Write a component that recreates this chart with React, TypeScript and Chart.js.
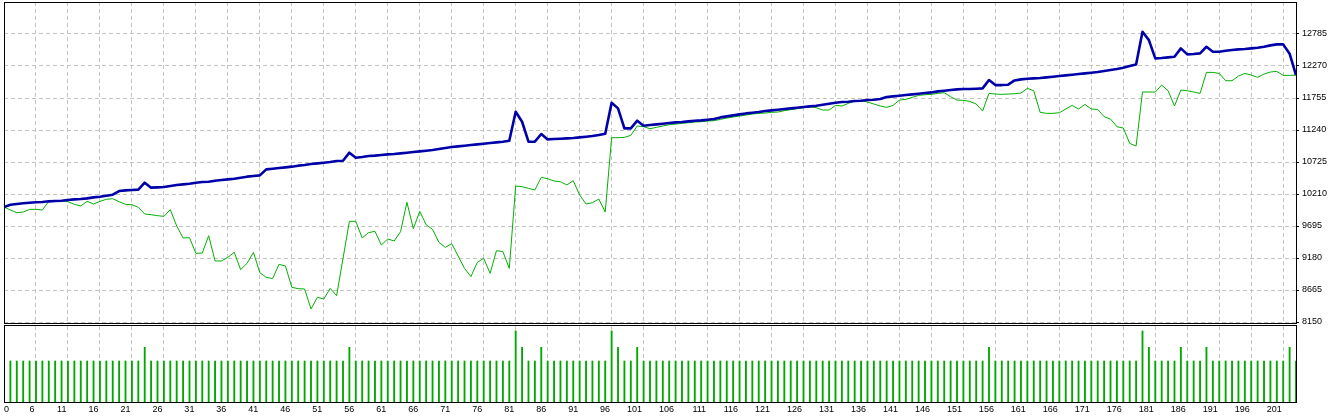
import React, { useEffect, useRef } from "react";
import { Chart, registerables } from "chart.js";

Chart.register(...registerables);

// Balance per trade number (0..202)
const balance = [
  10000, 10038, 10049, 10060, 10070, 10076, 10081, 10092, 10097, 10102,
  10113, 10124, 10129, 10140, 10156, 10167, 10183, 10199, 10258, 10269,
  10274, 10280, 10392, 10312, 10317, 10322, 10338, 10355, 10365, 10376,
  10392, 10403, 10408, 10424, 10435, 10446, 10456, 10472, 10489, 10499,
  10510, 10607, 10617, 10628, 10639, 10650, 10666, 10676, 10692, 10703,
  10714, 10725, 10741, 10746, 10875, 10794, 10805, 10821, 10827, 10837,
  10848, 10853, 10864, 10875, 10886, 10896, 10907, 10918, 10934, 10950,
  10966, 10977, 10987, 10998, 11009, 11020, 11030, 11041, 11052, 11068,
  11534, 11373, 11052, 11052, 11175, 11089, 11095, 11100, 11105, 11111,
  11121, 11132, 11143, 11159, 11180, 11679, 11588, 11266, 11266, 11390,
  11309, 11320, 11331, 11341, 11352, 11363, 11368, 11379, 11390, 11395,
  11406, 11416, 11443, 11459, 11475, 11491, 11507, 11518, 11529, 11545,
  11556, 11567, 11577, 11588, 11599, 11610, 11620, 11631, 11647, 11663,
  11679, 11690, 11695, 11706, 11711, 11722, 11727, 11738, 11770, 11781,
  11792, 11803, 11813, 11824, 11835, 11845, 11862, 11872, 11883, 11894,
  11899, 11899, 11904, 11910, 12044, 11963, 11963, 11969, 12038, 12055,
  12065, 12071, 12076, 12087, 12098, 12108, 12119, 12130, 12140, 12151,
  12162, 12173, 12189, 12205, 12221, 12242, 12269, 12296, 12822, 12687,
  12392, 12398, 12409, 12419, 12553, 12457, 12462, 12473, 12580, 12500,
  12500, 12516, 12527, 12537, 12543, 12553, 12564, 12580, 12602, 12618,
  12618, 12468, 12124,
];

// Equity per trade number (0..202)
const equity = [
  10000, 9952, 9910, 9920, 9963, 9963, 9952, 10092, 10097, 10102,
  10086, 10043, 10017, 10092, 10049, 10092, 10124, 10135, 10086, 10043,
  10038, 9995, 9888, 9877, 9861, 9850, 9958, 9695, 9502, 9507,
  9255, 9260, 9539, 9132, 9132, 9191, 9271, 8992, 9094, 9271,
  8944, 8869, 8848, 9078, 9051, 8708, 8687, 8681, 8360, 8547,
  8520, 8692, 8574, 9169, 9770, 9770, 9502, 9588, 9609, 9389,
  9486, 9454, 9604, 10076, 9652, 9931, 9716, 9641, 9432, 9352,
  9411, 9212, 9014, 8880, 9110, 9175, 8933, 9298, 9282, 9014,
  10338, 10328, 10301, 10274, 10478, 10456, 10419, 10408, 10355, 10424,
  10194, 10049, 10070, 10129, 9920, 11116, 11116, 11121, 11154, 11304,
  11293, 11261, 11282, 11304, 11325, 11336, 11347, 11357, 11368, 11373,
  11384, 11390, 11411, 11432, 11449, 11465, 11481, 11497, 11507, 11513,
  11524, 11529, 11551, 11567, 11583, 11599, 11615, 11599, 11561, 11561,
  11636, 11626, 11668, 11706, 11711, 11690, 11658, 11626, 11604, 11636,
  11722, 11733, 11765, 11797, 11808, 11813, 11829, 11840, 11776, 11722,
  11717, 11701, 11658, 11545, 11829, 11819, 11813, 11819, 11824, 11835,
  11910, 11872, 11524, 11508, 11508, 11518, 11577, 11636, 11577, 11652,
  11577, 11572, 11454, 11416, 11293, 11272, 11025, 10982, 11851, 11851,
  11851, 11963, 11872, 11626, 11883, 11872, 11851, 11829, 12167, 12167,
  12151, 12033, 12033, 12108, 12151, 12124, 12087, 12140, 12173, 12183,
  12119, 12119, 12124,
];

// Lot size per trade (trades 1..202)
const lots = [
  0.3, 0.3, 0.3, 0.3, 0.3, 0.3, 0.3, 0.3, 0.3, 0.3,
  0.3, 0.3, 0.3, 0.3, 0.3, 0.3, 0.3, 0.3, 0.3, 0.3,
  0.3, 0.4, 0.3, 0.3, 0.3, 0.3, 0.3, 0.3, 0.3, 0.3,
  0.3, 0.3, 0.3, 0.3, 0.3, 0.3, 0.3, 0.3, 0.3, 0.3,
  0.3, 0.3, 0.3, 0.3, 0.3, 0.3, 0.3, 0.3, 0.3, 0.3,
  0.3, 0.3, 0.3, 0.4, 0.3, 0.3, 0.3, 0.3, 0.3, 0.3,
  0.3, 0.3, 0.3, 0.3, 0.3, 0.3, 0.3, 0.3, 0.3, 0.3,
  0.3, 0.3, 0.3, 0.3, 0.3, 0.3, 0.3, 0.3, 0.3, 0.52,
  0.4, 0.3, 0.3, 0.4, 0.3, 0.3, 0.3, 0.3, 0.3, 0.3,
  0.3, 0.3, 0.3, 0.3, 0.52, 0.4, 0.3, 0.3, 0.4, 0.3,
  0.3, 0.3, 0.3, 0.3, 0.3, 0.3, 0.3, 0.3, 0.3, 0.3,
  0.3, 0.3, 0.3, 0.3, 0.3, 0.3, 0.3, 0.3, 0.3, 0.3,
  0.3, 0.3, 0.3, 0.3, 0.3, 0.3, 0.3, 0.3, 0.3, 0.3,
  0.3, 0.3, 0.3, 0.3, 0.3, 0.3, 0.3, 0.3, 0.3, 0.3,
  0.3, 0.3, 0.3, 0.3, 0.3, 0.3, 0.3, 0.3, 0.3, 0.3,
  0.3, 0.3, 0.3, 0.4, 0.3, 0.3, 0.3, 0.3, 0.3, 0.3,
  0.3, 0.3, 0.3, 0.3, 0.3, 0.3, 0.3, 0.3, 0.3, 0.3,
  0.3, 0.3, 0.3, 0.3, 0.3, 0.3, 0.3, 0.52, 0.4, 0.3,
  0.3, 0.3, 0.3, 0.4, 0.3, 0.3, 0.3, 0.4, 0.3, 0.3,
  0.3, 0.3, 0.3, 0.3, 0.3, 0.3, 0.3, 0.3, 0.3, 0.3,
  0.4, 0.3,
];

const yTickValues = [8150, 8665, 9180, 9695, 10210, 10725, 11240, 11755, 12270, 12785];
const xGridValues = [
  5, 10, 15, 20, 25, 30, 35, 40, 45, 50, 55, 60, 65, 70, 75, 80, 85, 90, 95, 100,
  105, 110, 115, 120, 125, 130, 135, 140, 145, 150, 155, 160, 165, 170, 175, 180, 185, 190, 195, 200,
];
const xLabelValues = [0, ...xGridValues];
const xLabelTexts = [
  "0", "6", "11", "16", "21", "26", "31", "36", "41", "46", "51", "56", "61", "66", "71", "76",
  "81", "86", "91", "96", "101", "106", "111", "116", "121", "126", "131", "136", "141", "146",
  "151", "156", "161", "166", "171", "176", "181", "186", "191", "196", "201",
];

const W = 1334;
const MAIN_H = 330;
const SUB_TOP = 323;
const SUB_H = 95;
const FONT_FAMILY = '"Liberation Sans", Arial, sans-serif';
const GRID = "#c4c4c4";
const DASH = [4, 3];

const mainFrame = {
  id: "mainFrame",
  afterDraw(chart: any) {
    const { ctx, chartArea: a } = chart;
    ctx.save();
    ctx.strokeStyle = "#000";
    ctx.lineWidth = 1;
    ctx.setLineDash([]);
    const l = Math.round(a.left) + 0.5;
    const r = Math.round(a.right) + 0.5;
    const t = Math.round(a.top) + 0.5;
    const b = Math.round(a.bottom) + 1.5;
    ctx.strokeRect(l, t, r - l, b - t);
    ctx.restore();
  },
};

const subFrame = {
  id: "subFrame",
  afterDraw(chart: any) {
    const { ctx, chartArea: a } = chart;
    const xs = chart.scales.x;
    ctx.save();
    ctx.strokeStyle = "#000";
    ctx.lineWidth = 1;
    ctx.setLineDash([]);
    const l = Math.round(a.left) + 0.5;
    const r = Math.round(a.right) + 0.5;
    const t = Math.round(a.top) - 0.5;
    const b = Math.round(a.bottom) + 0.5;
    ctx.strokeRect(l, t, r - l, b - t);
    ctx.font = `9px ${FONT_FAMILY}`;
    ctx.fillStyle = "#000";
    ctx.textBaseline = "middle";
    xLabelValues.forEach((v, i) => {
      const px = xs.getPixelForValue(v);
      if (i === 0) {
        ctx.textAlign = "left";
        ctx.fillText(xLabelTexts[i], px, 87);
      } else {
        ctx.textAlign = "right";
        ctx.fillText(xLabelTexts[i], px - 1.5, 87);
      }
    });
    ctx.restore();
  },
};

export default function App() {
  const mainRef = useRef<HTMLCanvasElement>(null);
  const subRef = useRef<HTMLCanvasElement>(null);

  useEffect(() => {
    const main = new Chart(mainRef.current as HTMLCanvasElement, {
      type: "line",
      data: {
        datasets: [
          {
            data: balance.map((v, i) => ({ x: i, y: v })),
            borderColor: "#0000a8",
            borderWidth: 2.6,
            pointRadius: 0,
            tension: 0,
            borderJoinStyle: "round",
            order: 0,
          },
          {
            data: equity.map((v, i) => ({ x: i, y: v })),
            borderColor: "#00b000",
            borderWidth: 1,
            pointRadius: 0,
            tension: 0,
            order: 1,
          },
        ],
      },
      options: {
        animation: false,
        responsive: false,
        maintainAspectRatio: false,
        devicePixelRatio: 1,
        events: [],
        layout: { autoPadding: false, padding: { left: 4, top: 2, right: 0, bottom: MAIN_H - 322 } },
        plugins: { legend: { display: false }, tooltip: { enabled: false } },
        scales: {
          x: {
            type: "linear",
            min: 0,
            max: 202,
            afterBuildTicks: (s: any) => {
              s.ticks = xGridValues.map((v) => ({ value: v }));
            },
            afterFit: (s: any) => {
              s.height = 0;
              s.paddingLeft = 0;
              s.paddingRight = 0;
            },
            ticks: { display: false },
            grid: { color: GRID, drawTicks: false, lineWidth: 1 },
            border: { display: false, dash: DASH },
          },
          y: {
            type: "linear",
            position: "right",
            min: 8150,
            max: 13300,
            afterBuildTicks: (s: any) => {
              s.ticks = yTickValues.map((v) => ({ value: v }));
            },
            afterFit: (s: any) => {
              s.width = W - 1296;
              s.paddingTop = 0;
              s.paddingBottom = 0;
            },
            ticks: {
              color: "#000",
              font: { family: FONT_FAMILY, size: 9 },
              padding: 3,
              callback: (v: any) => String(v),
            },
            grid: { color: GRID, tickColor: "#000", tickLength: 3, tickWidth: 1, lineWidth: 1 },
            border: { display: false, dash: DASH },
          },
        },
      },
      plugins: [mainFrame],
    } as any);

    const sub = new Chart(subRef.current as HTMLCanvasElement, {
      type: "bar",
      data: {
        datasets: [
          {
            data: lots.map((v, i) => ({ x: i + 1, y: v })),
            backgroundColor: "#00a800",
            borderWidth: 0,
            barThickness: 1.2,
          },
        ],
      },
      options: {
        animation: false,
        responsive: false,
        maintainAspectRatio: false,
        devicePixelRatio: 1,
        events: [],
        layout: { autoPadding: false, padding: { left: 4, top: 3, right: W - 1296, bottom: SUB_H - 79 } },
        plugins: { legend: { display: false }, tooltip: { enabled: false } },
        scales: {
          x: {
            type: "linear",
            min: 0,
            max: 202,
            offset: false,
            afterBuildTicks: (s: any) => {
              s.ticks = xGridValues.map((v) => ({ value: v }));
            },
            afterFit: (s: any) => {
              s.height = 0;
              s.paddingLeft = 0;
              s.paddingRight = 0;
            },
            ticks: { display: false },
            grid: { color: GRID, drawTicks: false, lineWidth: 1, offset: false },
            border: { display: false, dash: DASH },
          },
          y: {
            display: false,
            min: 0,
            max: 0.556,
          },
        },
      },
      plugins: [subFrame],
    } as any);

    return () => {
      main.destroy();
      sub.destroy();
    };
  }, []);

  return (
    <div
      style={{
        position: "fixed",
        left: 0,
        top: 0,
        width: W,
        height: 418,
        background: "#fff",
        overflow: "hidden",
      }}
    >
      <canvas
        ref={mainRef}
        width={W}
        height={MAIN_H}
        style={{ position: "absolute", left: 0, top: 0, width: W, height: MAIN_H }}
      />
      <canvas
        ref={subRef}
        width={W}
        height={SUB_H}
        style={{ position: "absolute", left: 0, top: SUB_TOP, width: W, height: SUB_H }}
      />
    </div>
  );
}
